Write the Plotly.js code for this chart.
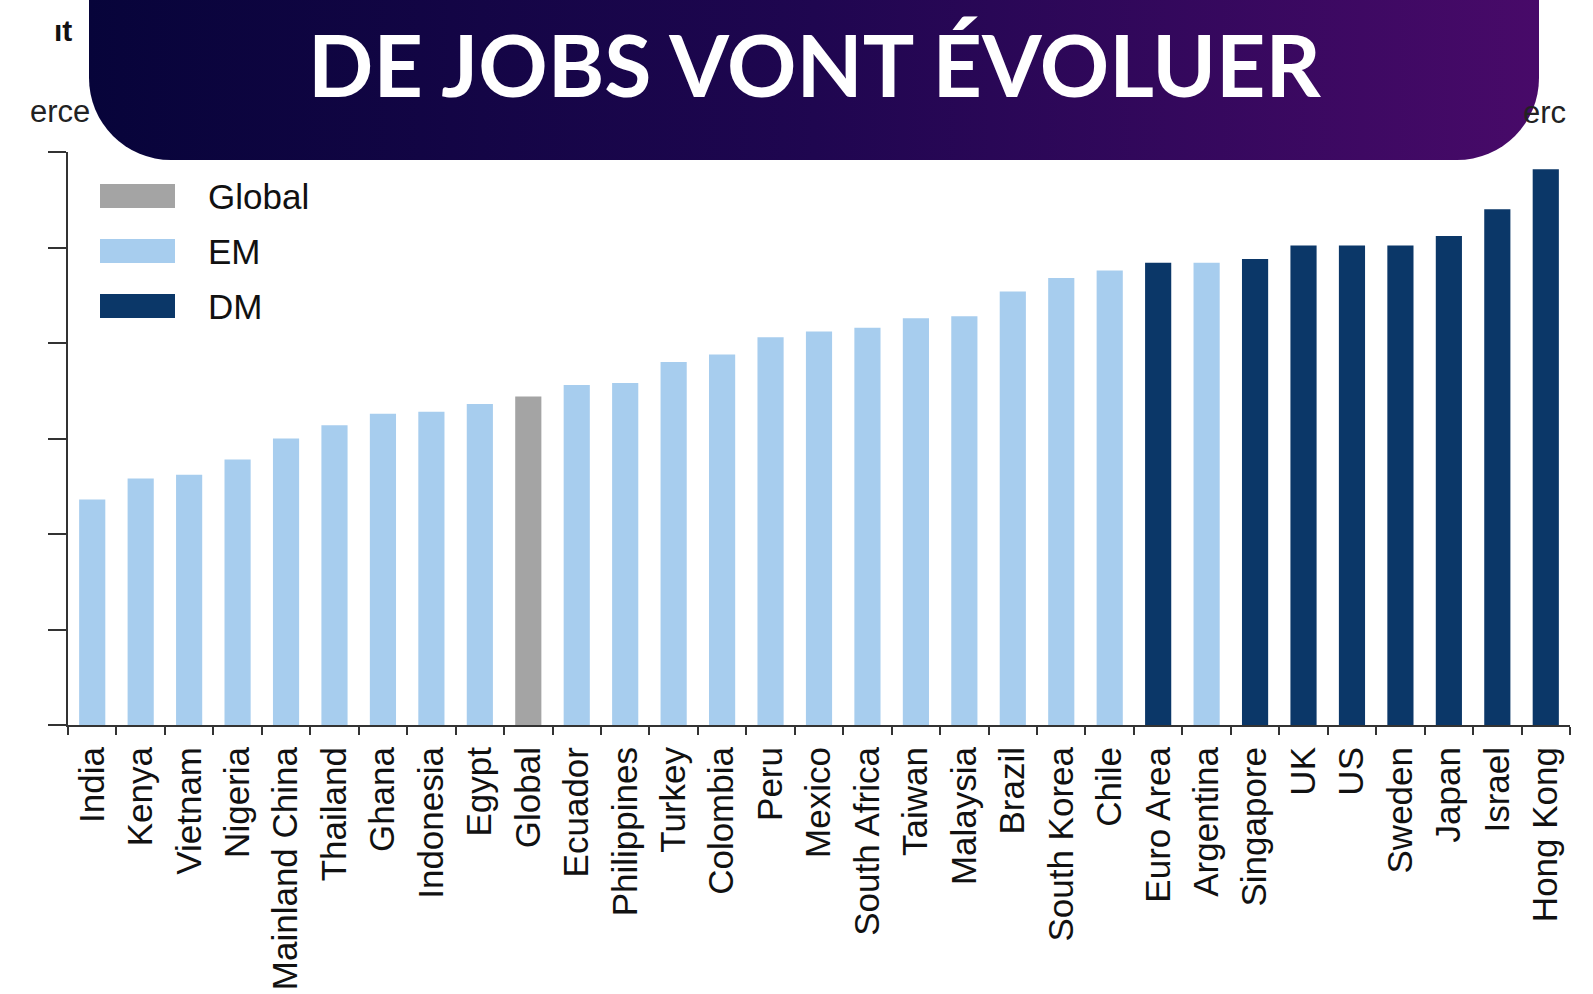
<!DOCTYPE html>
<html>
<head>
<meta charset="utf-8">
<script src="https://cdn.plot.ly/plotly-3.0.1.min.js"></script>
<style>
html,body{margin:0;padding:0;background:#fff;}
#chart{width:1593px;height:994px;}
</style>
</head>
<body>
<div id="chart"></div>
<script>
// ---- data ----
const categories = ["India","Kenya","Vietnam","Nigeria","Mainland China","Thailand","Ghana","Indonesia","Egypt","Global","Ecuador","Philippines","Turkey","Colombia","Peru","Mexico","South Africa","Taiwan","Malaysia","Brazil","South Korea","Chile","Euro Area","Argentina","Singapore","UK","US","Sweden","Japan","Israel","Hong Kong"];
const values = [11.8,12.9,13.1,13.9,15.0,15.7,16.3,16.4,16.8,17.2,17.8,17.9,19.0,19.4,20.3,20.6,20.8,21.3,21.4,22.7,23.4,23.8,24.2,24.2,24.4,25.1,25.1,25.1,25.6,27.0,29.1];
const groups = ["EM","EM","EM","EM","EM","EM","EM","EM","EM","Global","EM","EM","EM","EM","EM","EM","EM","EM","EM","EM","EM","EM","DM","EM","DM","DM","DM","DM","DM","DM","DM"];
const legendNames = ["Global","EM","DM"];
const titleText = "DE JOBS VONT ÉVOLUER";

// ---- styles ----
const groupColors = {"Global":"#a4a4a4","EM":"#a7cdee","DM":"#0b3768"};
const W = 1593, H = 994;
const L = 68, R = 1570, T = 152, B = 725;
const px2x = p => (p - L) / (R - L);
const py2y = p => (B - p) / (B - T);

const trace = {
  type: "bar",
  x: categories,
  y: values,
  marker: {color: groups.map(g => groupColors[g]), line: {width: 0}},
  width: 0.54,
  hoverinfo: "x+y",
  showlegend: false
};

const svg = "<svg xmlns='http://www.w3.org/2000/svg' width='1450' height='260'>" +
  "<defs><linearGradient id='g' x1='0' x2='1' y1='0' y2='0'>" +
  "<stop offset='0' stop-color='#07043a'/><stop offset='0.5' stop-color='#1f0650'/><stop offset='1' stop-color='#480a69'/>" +
  "</linearGradient></defs>" +
  "<rect x='0' y='0' width='1450' height='260' rx='82' ry='82' fill='url(#g)'/></svg>";
const svgUri = "data:image/svg+xml;charset=utf-8," + encodeURIComponent(svg);

const shapes = [];
const annotations = [];
const swatchTops = [184, 239, 294];
legendNames.forEach((n, i) => {
  shapes.push({type: "rect", xref: "paper", yref: "paper",
    x0: px2x(100), x1: px2x(175), y0: py2y(swatchTops[i]), y1: py2y(swatchTops[i] + 24),
    fillcolor: groupColors[n], line: {width: 0}, layer: "above"});
  annotations.push({xref: "paper", yref: "paper", x: px2x(206), y: py2y(swatchTops[i] + 12),
    xanchor: "left", yanchor: "middle", text: n, showarrow: false,
    font: {family: "Liberation Sans, Arial, sans-serif", size: 35, color: "#111"}});
});

annotations.push({xref: "paper", yref: "paper", x: px2x(814), y: py2y(64),
  xanchor: "center", yanchor: "middle", text: titleText, showarrow: false,
  font: {family: "Lato, 'Open Sans', sans-serif", size: 86, color: "#ffffff", weight: 700}});
annotations.push({xref: "paper", yref: "paper", x: px2x(92), y: py2y(111),
  xanchor: "right", yanchor: "middle", text: "erce", showarrow: false,
  font: {family: "Liberation Sans, Arial, sans-serif", size: 31, color: "#222"}});
annotations.push({xref: "paper", yref: "paper", x: px2x(1521), y: py2y(112),
  xanchor: "left", yanchor: "middle", text: "erc", showarrow: false,
  font: {family: "Liberation Sans, Arial, sans-serif", size: 31, color: "#222"}});
annotations.push({xref: "paper", yref: "paper", x: px2x(52), y: py2y(30),
  xanchor: "left", yanchor: "middle", text: "<b>ıt</b>", showarrow: false,
  font: {family: "Liberation Sans, Arial, sans-serif", size: 30, color: "#111"}});

const layout = {
  width: W, height: H,
  margin: {l: L, r: W - R, t: T, b: H - B, pad: 0},
  paper_bgcolor: "#ffffff", plot_bgcolor: "#ffffff",
  showlegend: false,
  bargap: 0.46,
  xaxis: {
    type: "category", range: [-0.5, categories.length - 0.5],
    showline: true, linecolor: "#333", linewidth: 2,
    ticks: "outside", ticklen: 8, tickwidth: 2, tickcolor: "#333",
    tickson: "boundaries", tickangle: -90, ticklabelstandoff: 6,
    tickmode: "array", tickvals: categories, ticktext: categories,
    tickfont: {family: "'Liberation Sans', Arial, sans-serif", size: 35, color: "#111"},
    showgrid: false, zeroline: false, fixedrange: true
  },
  yaxis: {
    range: [0, 30], dtick: 5, tick0: 0,
    showline: true, linecolor: "#333", linewidth: 2,
    ticks: "outside", ticklen: 18, tickwidth: 2, tickcolor: "#333",
    showticklabels: false, showgrid: false, zeroline: false, fixedrange: true
  },
  images: [{source: svgUri, xref: "paper", yref: "paper",
    x: px2x(89), y: py2y(-100), sizex: 1450 / (R - L), sizey: 260 / (B - T),
    xanchor: "left", yanchor: "top", sizing: "stretch", layer: "above"}],
  shapes: shapes,
  annotations: annotations
};

Plotly.newPlot("chart", [trace], layout, {displayModeBar: false, staticPlot: true});
</script>
</body>
</html>
